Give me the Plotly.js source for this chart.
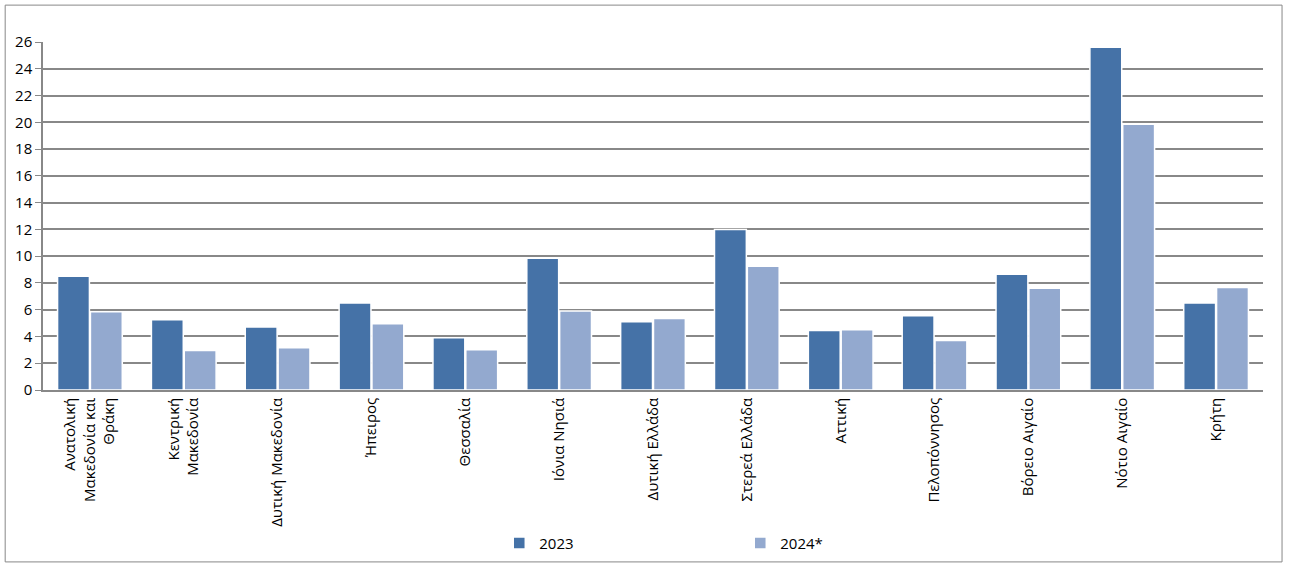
<!DOCTYPE html>
<html>
<head>
<meta charset="utf-8">
<script src="https://cdn.plot.ly/plotly-3.0.1.min.js"></script>
<style>body{margin:0;}#chart{width:1289px;height:563px;}</style>
</head>
<body>
<div id="chart"></div>
<script>
var regions = ['Ανατολική<br>Μακεδονία και<br>Θράκη', 'Κεντρική<br>Μακεδονία', 'Δυτική Μακεδονία', 'Ήπειρος',
  'Θεσσαλία', 'Ιόνια Νησιά', 'Δυτική Ελλάδα', 'Στερεά Ελλάδα', 'Αττική', 'Πελοπόννησος',
  'Βόρειο Αιγαίο', 'Νότιο Αιγαίο', 'Κρήτη'];
var v2023 = [8.5, 5.25, 4.7, 6.5, 3.9, 9.85, 5.1, 12.0, 4.45, 5.55, 8.65, 25.6, 6.5];
var v2024 = [5.85, 2.95, 3.15, 4.95, 3.0, 5.9, 5.35, 9.25, 4.5, 3.7, 7.6, 19.85, 7.65];

var data = [
  {x: regions, y: v2023, name: '2023', type: 'bar',
   marker: {color: '#4572a7', line: {color: '#ffffff', width: 1.5}}},
  {x: regions, y: v2024, name: '2024*', type: 'bar',
   marker: {color: '#93a9cf', line: {color: '#ffffff', width: 1.5}}}
];

var layout = {
  width: 1289, height: 563,
  font: {family: '"Open Sans", sans-serif', size: 15, color: '#000'},
  margin: {l: 43, r: 26, t: 42, b: 173},
  bargap: 0.3, bargroupgap: 0.03,
  showlegend: true,
  legend: {orientation: 'h', x: 0.374, y: 0.035, xanchor: 'left', yanchor: 'middle',
           yref: 'container', font: {size: 15}, entrywidth: 196},
  xaxis: {tickangle: -90, showline: true, linecolor: '#888', linewidth: 1.5,
          ticks: 'outside', ticklen: 0, showgrid: false, automargin: false},
  yaxis: {range: [0, 26], dtick: 2, showgrid: true, gridcolor: '#888', gridwidth: 1.5,
          ticks: 'outside', ticklen: 6, tickcolor: '#888', showline: true,
          linecolor: '#888', linewidth: 1.5, zeroline: false, automargin: false},
  shapes: [{type: 'rect', xref: 'paper', yref: 'paper', x0: -0.031, x1: 1.0156, y0: -0.494, y1: 1.106,
            line: {color: '#888', width: 1}}]
};

Plotly.newPlot('chart', data, layout, {displayModeBar: false});
</script>
</body>
</html>
